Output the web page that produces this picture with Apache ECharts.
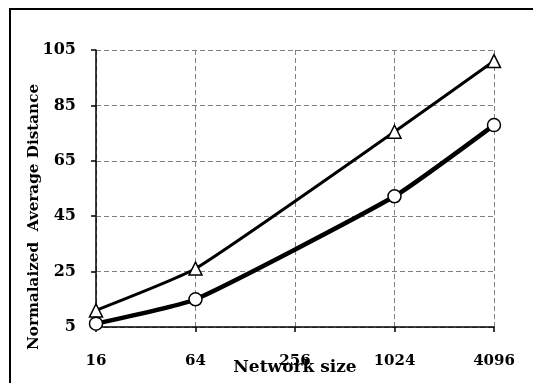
<!DOCTYPE html>
<html>
<head>
<meta charset="utf-8">
<script src="https://cdn.jsdelivr.net/npm/echarts@6/dist/echarts.min.js"></script>
<style>html,body{margin:0;padding:0;background:#fff;}#c{width:533px;height:383px;}</style>
</head>
<body>
<div id="c"></div>
<script>
const categories = ['16', '64', '256', '1024', '4096'];
const triangleSeries = [11, 26.1, null, 75.5, 101];
const circleSeries = [6.2, 15, null, 52.2, 77.9];
const yTicks = [5, 25, 45, 65, 85, 105];

const FONT = '"DejaVu Serif", serif';
const chart = echarts.init(document.getElementById('c'), null, {renderer: 'canvas'});
chart.setOption({
  backgroundColor: '#fff',
  animation: false,
  grid: {left: 96, right: 39, top: 50, bottom: 56, containLabel: false, outerBoundsMode: 'none'},
  xAxis: {
    type: 'category',
    data: categories,
    boundaryGap: false,
    name: 'Network size',
    nameLocation: 'middle',
    nameGap: 32,
    nameMoveOverlap: false,
    nameTextStyle: {fontFamily: FONT, fontWeight: 'bold', fontSize: 17, color: '#000'},
    axisLine: {lineStyle: {color: '#000', width: 1.5}},
    axisTick: {show: true, alignWithLabel: true, length: 5, lineStyle: {color: '#000', width: 1.5}},
    axisLabel: {fontFamily: FONT, fontWeight: 'bold', fontSize: 15, color: '#000', margin: 27},
    splitLine: {show: true, lineStyle: {color: '#808080', type: [5, 3], width: 1}}
  },
  yAxis: {
    type: 'value',
    min: 5, max: 105, interval: 20,
    axisLine: {show: true, lineStyle: {color: '#000', width: 1.5}},
    axisTick: {show: true, length: 5, lineStyle: {color: '#000', width: 1.5}},
    axisLabel: {fontFamily: FONT, fontWeight: 'bold', fontSize: 16, color: '#000', margin: 20,
      formatter: v => yTicks.includes(v) ? String(v) : ''},
    splitLine: {show: true, lineStyle: {color: '#808080', type: [5, 3], width: 1}}
  },
  graphic: [
    {type: 'rect', shape: {x: 10, y: 9, width: 600, height: 500}, style: {fill: 'none', stroke: '#000', lineWidth: 2}, silent: true},
    {type: 'text', x: 34, y: 217, rotation: Math.PI / 2,
      style: {text: 'Normalaized  Average Distance', fontFamily: FONT, fontWeight: 'bold', fontSize: 15.2, fill: '#000', align: 'center', verticalAlign: 'middle'}}
  ],
  series: [
    {type: 'line', data: triangleSeries, connectNulls: true, smooth: 0.15,
      symbol: 'triangle', symbolSize: 13, showAllSymbol: true,
      lineStyle: {color: '#000', width: 3},
      itemStyle: {color: '#fff', borderColor: '#000', borderWidth: 1.5}, z: 3},
    {type: 'line', data: circleSeries, connectNulls: true, smooth: 0.15,
      symbol: 'circle', symbolSize: 13, showAllSymbol: true,
      lineStyle: {color: '#000', width: 4.5},
      itemStyle: {color: '#fff', borderColor: '#000', borderWidth: 1.5}, z: 3}
  ]
});
</script>
</body>
</html>
